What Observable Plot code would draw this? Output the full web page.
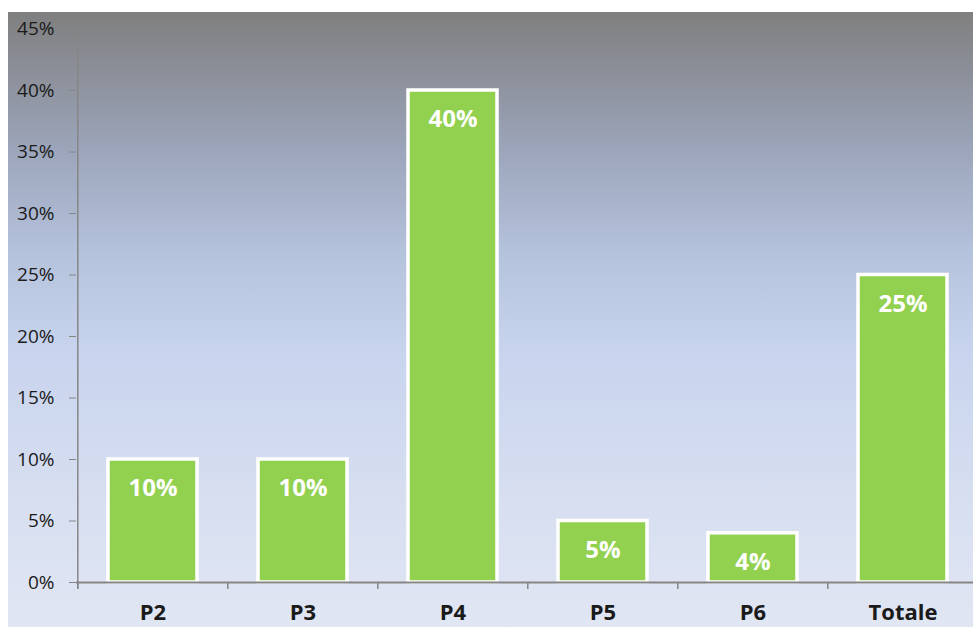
<!DOCTYPE html>
<html>
<head>
<meta charset="utf-8">
<script src="https://cdn.jsdelivr.net/npm/d3@7"></script>
<script src="https://cdn.jsdelivr.net/npm/@observablehq/plot@0.6"></script>
<style>
  html, body { margin: 0; padding: 0; background: #fff; }
  #chart { position: relative; width: 973px; height: 627px; overflow: hidden; }
  #bg {
    position: absolute; left: 8px; top: 12px; width: 965px; height: 615px;
    background: linear-gradient(to bottom, #7f7f7f 0%, #9ba4b9 22%, #b5c2dc 39%, #c8d4ee 55%, #d6def0 78%, #e1e6f3 100%);
  }
  #chart svg { position: absolute; left: 0; top: 0; }
</style>
</head>
<body>
<div id="chart"><div id="bg"></div></div>
<script>
const categories = ["P2", "P3", "P4", "P5", "P6", "Totale"];
const values = [10, 10, 40, 5, 4, 25];
const yTicks = [0, 5, 10, 15, 20, 25, 30, 35, 40, 45];

const data = categories.map((c, i) => ({cat: c, value: values[i]}));

const W = 973, H = 627;
const mL = 76;
const xEnd = 978.4;
const step = (xEnd - mL) / categories.length;
const lastCat = categories[categories.length - 1];

const chart = Plot.plot({
  width: W,
  height: H,
  marginLeft: mL,
  marginRight: 0,
  marginTop: 28.5,
  marginBottom: 45,
  style: {background: "transparent", fontFamily: "'Open Sans', sans-serif", overflow: "visible"},
  x: {domain: categories, range: [mL, xEnd], paddingInner: 0.41, paddingOuter: 0.205, label: null},
  y: {domain: [0, 45], label: null},
  marks: [
    Plot.barY(data, {x: "cat", y: "value", fill: "#92d050", stroke: "white", strokeWidth: 3.5}),
    Plot.text(data, {x: "cat", y: "value", text: d => d.value + "%", dy: 29, fill: "white", fontWeight: "bold", fontSize: 24}),
    // y axis line
    Plot.ruleX([categories[0]], {y1: -0.57, y2: 45, dx: -step / 2, stroke: "#868686", strokeWidth: 1.5}),
    // x axis line
    Plot.ruleY([0], {stroke: "#868686", strokeWidth: 2}),
    // x tick marks at category boundaries
    Plot.ruleX(categories, {y1: 0, y2: -0.57, dx: -step / 2, stroke: "#868686", strokeWidth: 1.5}),
    Plot.axisY({ticks: yTicks, tickFormat: d => d + "%", tickSize: 7, tickPadding: 15, stroke: "#868686", fill: "#1a1a1a", fontSize: 19, tickStrokeWidth: 1.5}),
    Plot.axisX({tickSize: 0, tickPadding: 22, fontSize: 22, fontWeight: "bold", fill: "#1a1a1a"})
  ]
});
document.getElementById("chart").appendChild(chart);
</script>
</body>
</html>
